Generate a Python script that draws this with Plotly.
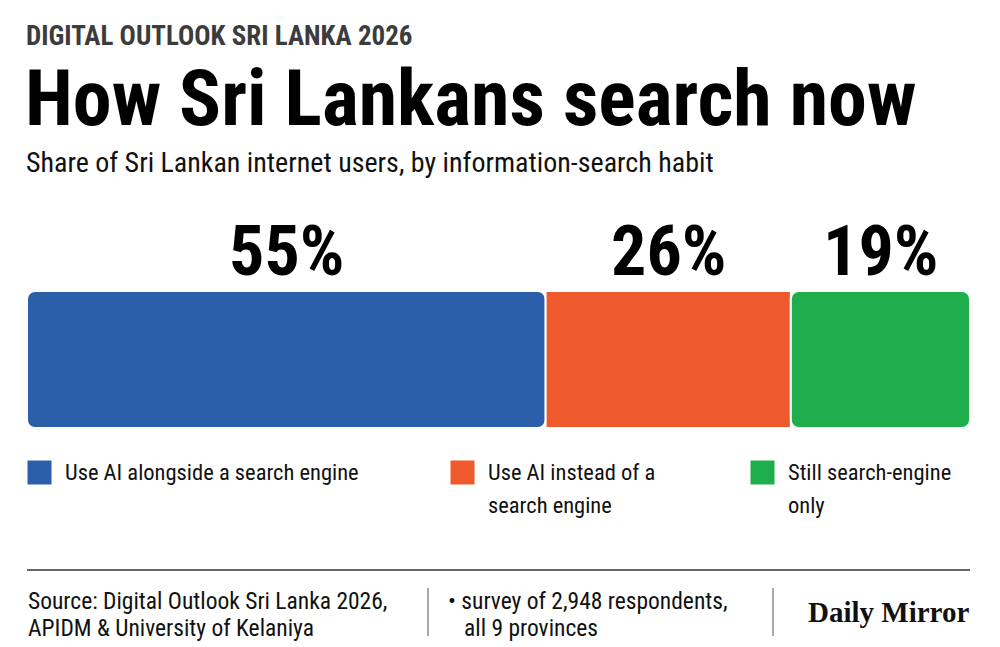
import plotly.graph_objects as go

# data
categories = ["Use AI alongside a search engine",
              "Use AI instead of a<br>search engine",
              "Still search-engine<br>only"]
shares = [55, 26, 19]
colors = ["#2b5fa9", "#ef5a2d", "#1eae4c"]
legend_left = [27, 450, 750]   # pixel position of each legend swatch
source_lines = ["Source: Digital Outlook Sri Lanka 2026,", "APIDM & University of Kelaniya"]
note_lines = ["\u2022 survey of 2,948 respondents,", "all 9 provinces"]

# page body has an 8px margin, so the figure is a bit smaller than the window
W, H = 992, 639
OFF = 8
COND = "Roboto Condensed, DejaVu Sans, sans-serif"


def px(pix):
    return (pix - OFF) / W


def py(pix):
    return 1 - (pix - OFF) / H


def label(x, y, text, size, color="#111", family=COND, xanchor="left", yanchor="middle", **kw):
    fig.add_annotation(x=px(x), y=py(y), xref="paper", yref="paper",
                       xanchor=xanchor, yanchor=yanchor, text=text, showarrow=False,
                       font=dict(family=family, size=size, color=color), **kw)


fig = go.Figure()

# first segment is drawn from its right end back to 0 so its rounded tip sits on the left
radius = [8, 0, 8]
base = 0
for i, (name, val, col) in enumerate(zip(categories, shares, colors)):
    if i == 0:
        bx, bbase = -val, base + val
    else:
        bx, bbase = val, base
    fig.add_trace(go.Bar(
        y=[0], x=[bx], base=bbase, orientation="h", name=name,
        marker=dict(color=col, line=dict(color="white", width=2), cornerradius=radius[i]),
        width=1, showlegend=False, hoverinfo="skip",
    ))
    fig.add_annotation(
        x=base + val / 2, y=py(251), xref="x", yref="paper",
        xanchor="center", yanchor="middle",
        text="<b>%d%%</b>" % val, showarrow=False,
        font=dict(family=COND, size=70, color="#000"),
    )
    base += val

# legend
for name, col, lx in zip(categories, colors, legend_left):
    fig.add_annotation(
        x=px(lx), y=py(460), xref="paper", yref="paper", xanchor="left", yanchor="top",
        text=" ", bgcolor=col, width=21, height=21, showarrow=False, font=dict(size=10),
    )
    for j, line in enumerate(name.split("<br>")):
        label(lx + 36, 472 + 33 * j, line, 22.5)

# titles
label(24, 36, "<b>DIGITAL OUTLOOK SRI LANKA 2026</b>", 27, color="#3c3c3c")
label(23, 98, "<b>How Sri Lankans search now</b>", 78, color="#000")
label(24, 163, "Share of Sri Lankan internet users, by information-search habit", 28)

# footer
for j, line in enumerate(source_lines):
    label(26, 601 + 27 * j, line, 23.5)
for j, line in enumerate(note_lines):
    label(446 if j == 0 else 462, 601 + 27 * j, line, 23.5)
label(971, 612, "<b>Daily Mirror</b>", 29, family="Liberation Serif, DejaVu Serif, serif",
      xanchor="right")

fig.add_shape(type="line", xref="paper", yref="paper", x0=px(27), x1=px(970),
              y0=py(570), y1=py(570), line=dict(color="#333", width=1.5))
for sx in [428, 773]:
    fig.add_shape(type="line", xref="paper", yref="paper", x0=px(sx), x1=px(sx),
                  y0=py(588), y1=py(636), line=dict(color="#555", width=1))

fig.update_layout(
    width=W, height=H, margin=dict(l=0, r=0, t=0, b=0),
    paper_bgcolor="white", plot_bgcolor="white",
    barmode="overlay",
    xaxis=dict(domain=[px(27), px(970)], range=[0, 100], visible=False, fixedrange=True),
    yaxis=dict(domain=[py(428), py(291)], range=[-0.5, 0.5], visible=False, fixedrange=True),
)

fig.write_html("out.html")
